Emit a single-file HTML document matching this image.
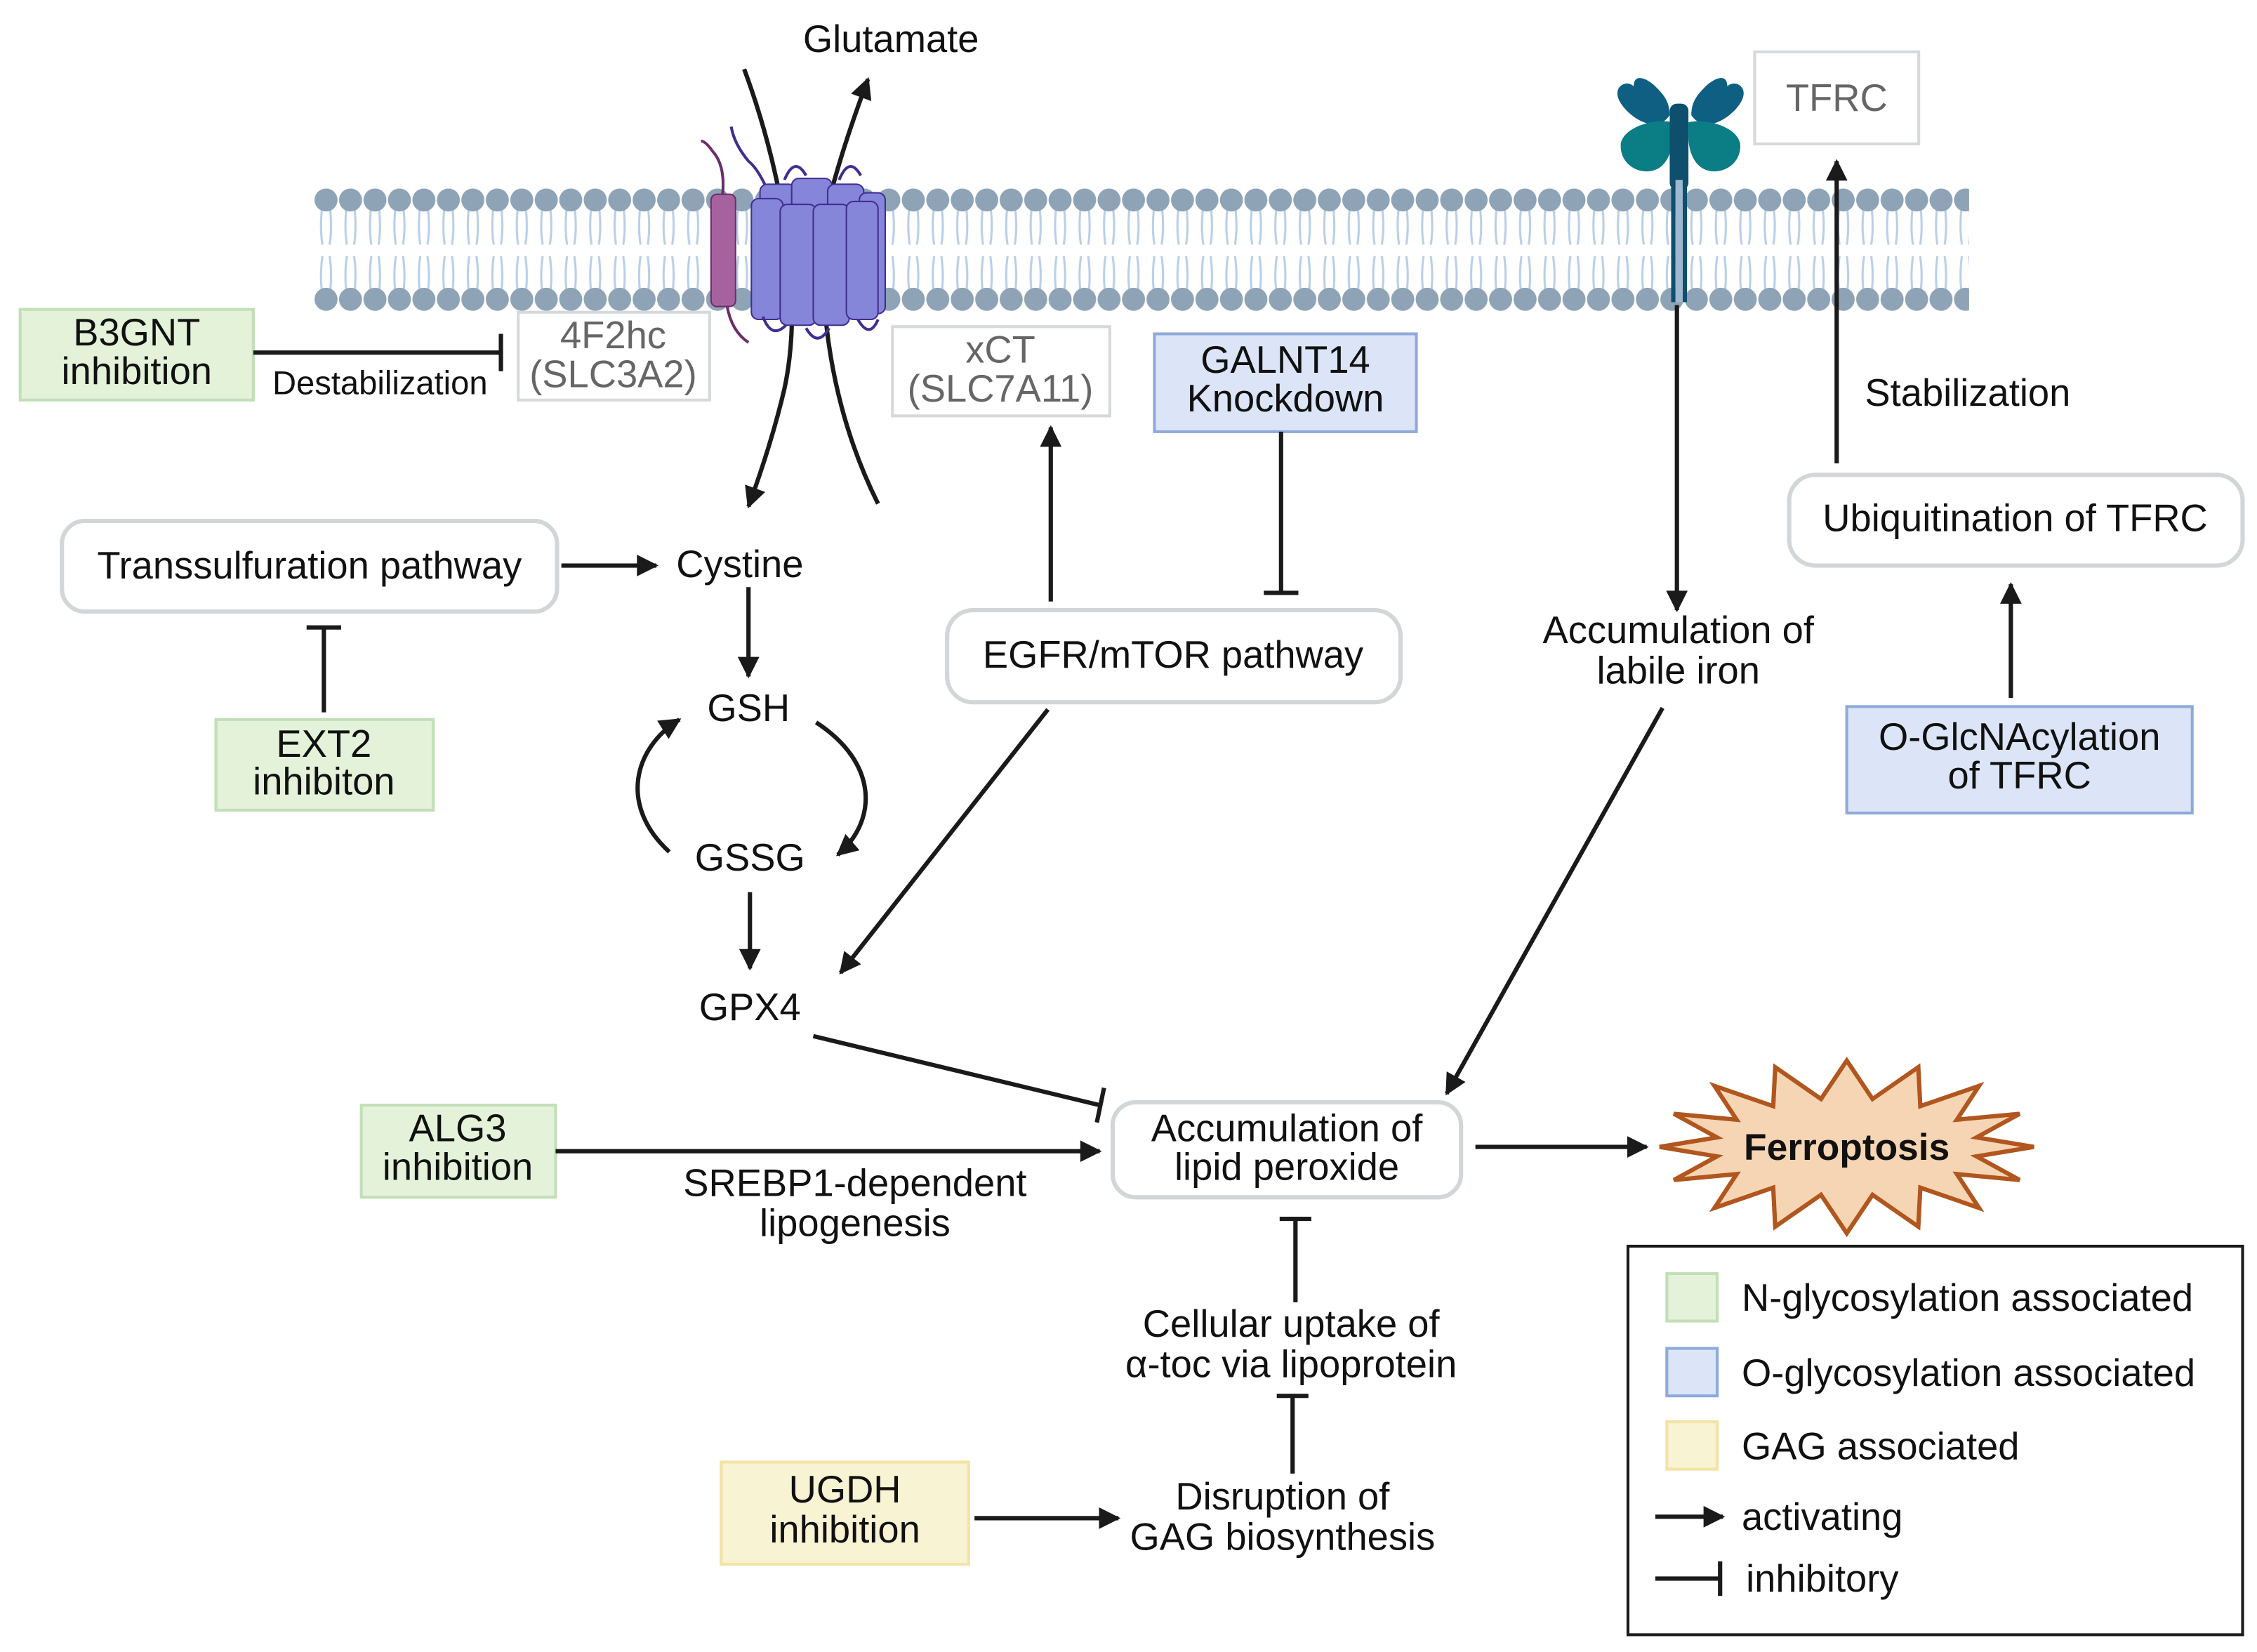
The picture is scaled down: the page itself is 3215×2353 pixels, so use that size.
<!DOCTYPE html>
<html><head><meta charset="utf-8">
<style>
html,body{margin:0;padding:0;background:#fff;}
svg{display:block;}
text{font-family:"Liberation Sans",Arial,sans-serif;font-size:26.5px;fill:#111;}
</style></head>
<body>
<svg width="3215" height="2353" viewBox="0 0 1568 1148" preserveAspectRatio="none" xmlns="http://www.w3.org/2000/svg">
<defs>
<marker id="ah" viewBox="0 0 10 10" refX="9" refY="5" markerWidth="5.5" markerHeight="5" orient="auto" markerUnits="strokeWidth">
<path d="M0,0 L10,5 L0,10 z" fill="#1a1a1a"/></marker>
<pattern id="mem" x="218" y="0" width="17" height="1148" patternUnits="userSpaceOnUse">
<path d="M6,142 Q4,158 6,170 M11,142 Q13,158 11,170 M6,178 Q4,192 6,205 M11,178 Q13,192 11,205" stroke="#b9cfe8" stroke-width="1.5" fill="none"/>
<circle cx="8.5" cy="139" r="8" fill="#8ea3b6"/>
<circle cx="8.5" cy="208" r="8" fill="#8ea3b6"/>
</pattern>
</defs>

<rect x="218" y="128" width="1150" height="92" fill="url(#mem)"/>

<path d="M517,48 C540,110 560,200 545,270 C538,300 528,330 520,352" stroke="#1a1a1a" stroke-width="3" fill="none" marker-end="url(#ah)"/>
<path d="M568,170 C580,120 590,90 603,55" stroke="#1a1a1a" stroke-width="3" fill="none" marker-end="url(#ah)"/>
<path d="M572,200 C575,260 590,310 610,350" stroke="#1a1a1a" stroke-width="3" fill="none"/>

<path d="M505,212 Q508,230 520,238" stroke="#6b2e6a" stroke-width="2" fill="none"/>
<path d="M502,135 Q504,115 495,105 Q490,98 487,98" stroke="#6b2e6a" stroke-width="2" fill="none"/>
<rect x="494" y="135" width="17" height="78" rx="4" fill="#a6629f" stroke="#6b2e6a" stroke-width="1"/>
<path d="M540,150 Q530,120 520,112 Q510,100 508,88" stroke="#3f2f8f" stroke-width="2" fill="none"/>
<g fill="#8585da" stroke="#3f2f8f" stroke-width="1">
<rect x="528" y="128" width="25" height="90" rx="5"/>
<rect x="550" y="124" width="28" height="92" rx="5"/>
<rect x="575" y="128" width="25" height="90" rx="5"/>
<rect x="597" y="134" width="18" height="84" rx="5"/>
<rect x="522" y="138" width="22" height="84" rx="5"/>
<rect x="542" y="142" width="25" height="84" rx="5"/>
<rect x="565" y="142" width="25" height="84" rx="5"/>
<rect x="588" y="140" width="22" height="82" rx="5"/>
</g>
<g stroke="#3f2f8f" stroke-width="2" fill="none">
<path d="M545,125 Q552,108 560,122"/><path d="M583,125 Q590,108 598,122"/>
<path d="M530,220 Q536,236 546,226"/><path d="M560,228 Q568,242 576,228"/><path d="M596,222 Q604,236 610,222"/>
</g>

<g fill="#0e5f82">
<path d="M1160,80 C1150,95 1130,80 1125,70 C1120,60 1130,55 1135,60 C1135,50 1145,55 1150,60 C1155,65 1160,70 1160,80z"/>
<path d="M1175,80 C1185,95 1205,80 1210,70 C1215,60 1205,55 1200,60 C1200,50 1190,55 1185,60 C1180,65 1175,70 1175,80z"/>
</g>
<g fill="#0b7d85">
<path d="M1162,85 C1150,82 1128,88 1126,100 C1125,115 1140,122 1150,118 C1158,115 1162,105 1162,95z"/>
<path d="M1173,85 C1185,82 1207,88 1209,100 C1210,115 1195,122 1185,118 C1177,115 1173,105 1173,95z"/>
</g>
<rect x="1160" y="72" width="13" height="60" rx="5" fill="#0e4f6e"/>
<rect x="1161" y="125" width="3" height="85" fill="#0e4f6e"/>
<rect x="1169" y="125" width="3" height="85" fill="#0e4f6e"/>
<rect x="1164" y="125" width="5" height="85" fill="#9fb7cf"/>

<text x="619" y="36" text-anchor="middle">Glutamate</text>

<rect x="14" y="215" width="162" height="63" fill="#e3f2d9" stroke="#c2dfb7" stroke-width="2"/>
<text x="95" y="240" text-anchor="middle">B3GNT</text><text x="95" y="267" text-anchor="middle">inhibition</text>
<line x1="176" y1="245" x2="348" y2="245" stroke="#1a1a1a" stroke-width="3"/>
<line x1="348" y1="232" x2="348" y2="258" stroke="#1a1a1a" stroke-width="3"/>
<text x="264" y="274" text-anchor="middle" style="font-size:23px">Destabilization</text>

<rect x="360" y="217" width="133" height="61" fill="#fff" stroke="#d6d9dc" stroke-width="2"/>
<text x="426" y="242" text-anchor="middle" style="fill:#666">4F2hc</text><text x="426" y="269" text-anchor="middle" style="fill:#666">(SLC3A2)</text>

<rect x="620" y="227" width="151" height="62" fill="#fff" stroke="#d6d9dc" stroke-width="2"/>
<text x="695" y="252" text-anchor="middle" style="fill:#666">xCT</text><text x="695" y="279" text-anchor="middle" style="fill:#666">(SLC7A11)</text>

<rect x="802" y="232" width="182" height="68" fill="#dbe5f7" stroke="#8eaadb" stroke-width="2"/>
<text x="893" y="259" text-anchor="middle">GALNT14</text><text x="893" y="286" text-anchor="middle">Knockdown</text>
<line x1="890" y1="300" x2="890" y2="412" stroke="#1a1a1a" stroke-width="3"/>
<line x1="878" y1="412" x2="902" y2="412" stroke="#1a1a1a" stroke-width="3"/>

<rect x="1219" y="36" width="114" height="64" fill="#fff" stroke="#d6d9dc" stroke-width="2"/>
<text x="1276" y="77" text-anchor="middle" style="fill:#666">TFRC</text>

<rect x="43" y="362" width="344" height="63" rx="16" fill="#fff" stroke="#d3d6d9" stroke-width="3"/>
<text x="215" y="402" text-anchor="middle">Transsulfuration pathway</text>
<line x1="390" y1="393" x2="456" y2="393" stroke="#1a1a1a" stroke-width="3" marker-end="url(#ah)"/>
<text x="514" y="401" text-anchor="middle">Cystine</text>
<line x1="520" y1="408" x2="520" y2="470" stroke="#1a1a1a" stroke-width="3" marker-end="url(#ah)"/>
<text x="520" y="501" text-anchor="middle">GSH</text>
<path d="M465,592 C430,560 440,520 472,500" stroke="#1a1a1a" stroke-width="3" fill="none" marker-end="url(#ah)"/>
<path d="M567,502 C610,530 610,570 582,594" stroke="#1a1a1a" stroke-width="3" fill="none" marker-end="url(#ah)"/>
<text x="521" y="605" text-anchor="middle">GSSG</text>
<line x1="521" y1="620" x2="521" y2="673" stroke="#1a1a1a" stroke-width="3" marker-end="url(#ah)"/>
<text x="521" y="709" text-anchor="middle">GPX4</text>

<line x1="225" y1="436" x2="225" y2="495" stroke="#1a1a1a" stroke-width="3"/>
<line x1="213" y1="436" x2="237" y2="436" stroke="#1a1a1a" stroke-width="3"/>
<rect x="150" y="500" width="151" height="63" fill="#e3f2d9" stroke="#c2dfb7" stroke-width="2"/>
<text x="225" y="526" text-anchor="middle">EXT2</text><text x="225" y="552" text-anchor="middle">inhibiton</text>

<rect x="658" y="424" width="315" height="64" rx="18" fill="#fff" stroke="#d3d6d9" stroke-width="3"/>
<text x="815" y="464" text-anchor="middle">EGFR/mTOR pathway</text>
<line x1="730" y1="418" x2="730" y2="297" stroke="#1a1a1a" stroke-width="3" marker-end="url(#ah)"/>
<line x1="728" y1="493" x2="584" y2="676" stroke="#1a1a1a" stroke-width="3" marker-end="url(#ah)"/>

<line x1="1165" y1="212" x2="1165" y2="424" stroke="#1a1a1a" stroke-width="3" marker-end="url(#ah)"/>
<text x="1166" y="447" text-anchor="middle">Accumulation of</text><text x="1166" y="475" text-anchor="middle">labile iron</text>
<line x1="1155" y1="492" x2="1005" y2="760" stroke="#1a1a1a" stroke-width="3" marker-end="url(#ah)"/>

<rect x="1243" y="330" width="315" height="63" rx="18" fill="#fff" stroke="#d3d6d9" stroke-width="3"/>
<text x="1400" y="369" text-anchor="middle">Ubiquitination of TFRC</text>
<line x1="1276" y1="322" x2="1276" y2="112" stroke="#1a1a1a" stroke-width="3" marker-end="url(#ah)"/>
<text x="1367" y="282" text-anchor="middle">Stabilization</text>
<line x1="1397" y1="485" x2="1397" y2="406" stroke="#1a1a1a" stroke-width="3" marker-end="url(#ah)"/>
<rect x="1283" y="491" width="240" height="74" fill="#dbe5f7" stroke="#8eaadb" stroke-width="2"/>
<text x="1403" y="521" text-anchor="middle">O-GlcNAcylation</text><text x="1403" y="548" text-anchor="middle">of TFRC</text>

<line x1="565" y1="720" x2="764" y2="768" stroke="#1a1a1a" stroke-width="3"/>
<line x1="767" y1="756" x2="762" y2="780" stroke="#1a1a1a" stroke-width="3"/>

<rect x="251" y="768" width="135" height="64" fill="#e3f2d9" stroke="#c2dfb7" stroke-width="2"/>
<text x="318" y="793" text-anchor="middle">ALG3</text><text x="318" y="820" text-anchor="middle">inhibition</text>
<line x1="386" y1="800" x2="764" y2="800" stroke="#1a1a1a" stroke-width="3" marker-end="url(#ah)"/>
<text x="594" y="831" text-anchor="middle">SREBP1-dependent</text><text x="594" y="859" text-anchor="middle">lipogenesis</text>

<rect x="773" y="766" width="242" height="66" rx="16" fill="#fff" stroke="#d3d6d9" stroke-width="3"/>
<text x="894" y="793" text-anchor="middle">Accumulation of</text><text x="894" y="820" text-anchor="middle">lipid peroxide</text>
<line x1="1025" y1="797" x2="1144" y2="797" stroke="#1a1a1a" stroke-width="3" marker-end="url(#ah)"/>

<polygon id="star" fill="#f6d5b4" stroke="#b0561e" stroke-width="3" stroke-linejoin="miter" points=""/>
<text x="1283" y="806" text-anchor="middle" style="font-weight:bold;font-size:26px">Ferroptosis</text>

<line x1="900" y1="847" x2="900" y2="905" stroke="#1a1a1a" stroke-width="3"/>
<line x1="889" y1="847" x2="911" y2="847" stroke="#1a1a1a" stroke-width="3"/>
<text x="897" y="929" text-anchor="middle">Cellular uptake of</text><text x="897" y="957" text-anchor="middle">α-toc via lipoprotein</text>
<line x1="898" y1="970" x2="898" y2="1024" stroke="#1a1a1a" stroke-width="3"/>
<line x1="887" y1="970" x2="909" y2="970" stroke="#1a1a1a" stroke-width="3"/>
<text x="891" y="1049" text-anchor="middle">Disruption of</text><text x="891" y="1077" text-anchor="middle">GAG biosynthesis</text>

<rect x="501" y="1016" width="172" height="71" fill="#f7f3d3" stroke="#f4e3a6" stroke-width="2"/>
<text x="587" y="1044" text-anchor="middle">UGDH</text><text x="587" y="1072" text-anchor="middle">inhibition</text>
<line x1="677" y1="1055" x2="777" y2="1055" stroke="#1a1a1a" stroke-width="3" marker-end="url(#ah)"/>

<rect x="1131" y="866" width="427" height="270" fill="#fff" stroke="#1a1a1a" stroke-width="2"/>
<rect x="1158" y="885" width="35" height="33" fill="#e3f2d9" stroke="#c2dfb7" stroke-width="2"/>
<text x="1210" y="911">N-glycosylation associated</text>
<rect x="1158" y="937" width="35" height="33" fill="#dbe5f7" stroke="#8eaadb" stroke-width="2"/>
<text x="1210" y="963">O-glycosylation associated</text>
<rect x="1158" y="988" width="35" height="33" fill="#f7f3d3" stroke="#f4e3a6" stroke-width="2"/>
<text x="1210" y="1014">GAG associated</text>
<line x1="1150" y1="1054" x2="1197" y2="1054" stroke="#1a1a1a" stroke-width="3" marker-end="url(#ah)"/>
<text x="1210" y="1063">activating</text>
<line x1="1150" y1="1097" x2="1195" y2="1097" stroke="#1a1a1a" stroke-width="3"/>
<line x1="1195" y1="1085" x2="1195" y2="1109" stroke="#1a1a1a" stroke-width="3"/>
<text x="1213" y="1106">inhibitory</text>
</svg>
<script>
(function(){
var cx=1283,cy=797,n=16,pts=[];
for(var i=0;i<2*n;i++){
 var a=Math.PI*i/n;
 var rx=i%2==0?130:92, ry=i%2==0?60:34;
 pts.push((cx+rx*Math.cos(a)).toFixed(1)+","+(cy+ry*Math.sin(a)).toFixed(1));
}
document.getElementById("star").setAttribute("points",pts.join(" "));
})();
</script>
</body></html>
